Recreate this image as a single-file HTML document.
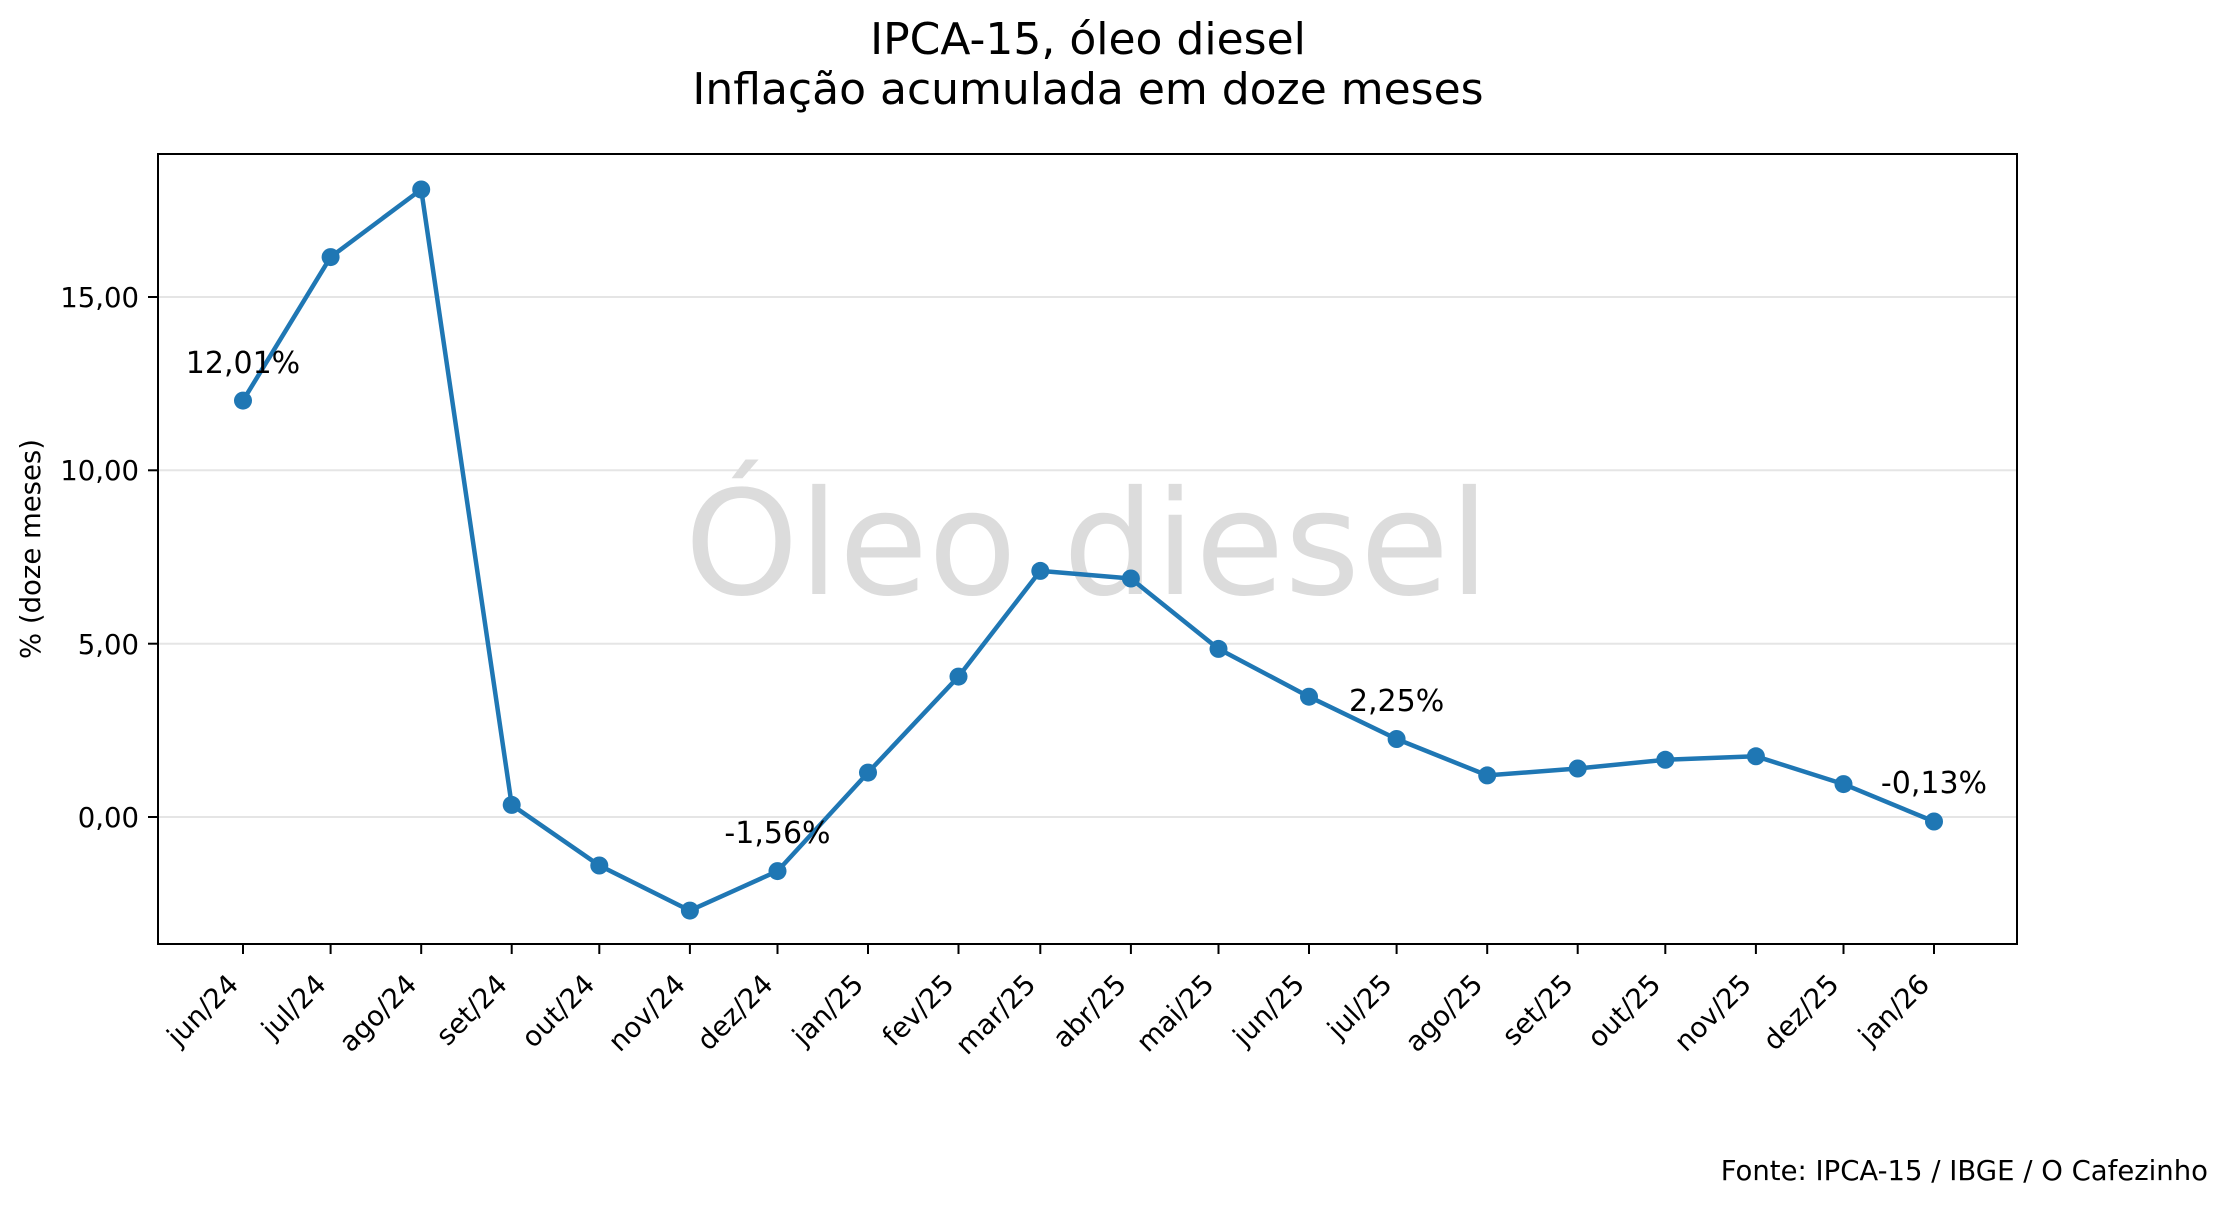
<!DOCTYPE html>
<html><head><meta charset="utf-8"><style>html,body{margin:0;padding:0;background:#fff}svg{display:block}text{font-family:"DejaVu Sans","Liberation Sans",sans-serif}</style></head><body>
<svg width="2230" height="1206" viewBox="0 0 2230 1206" xmlns="http://www.w3.org/2000/svg">
<rect width="2230" height="1206" fill="#fff"/>
<text x="1088" y="54" font-size="44" text-anchor="middle">IPCA-15, óleo diesel</text>
<text x="1088" y="104" font-size="44" text-anchor="middle">Inflação acumulada em doze meses</text>
<g stroke="#e5e5e5" stroke-width="2">
<line x1="158" x2="2017" y1="297" y2="297"/><line x1="158" x2="2017" y1="470.3" y2="470.3"/><line x1="158" x2="2017" y1="643.7" y2="643.7"/><line x1="158" x2="2017" y1="817" y2="817"/>
</g>
<text x="1087" y="594" font-size="145" fill="#dcdcdc" text-anchor="middle">Óleo diesel</text>
<polyline fill="none" stroke="#1f77b4" stroke-width="4.5" stroke-linejoin="round" points="243,400.6 330.6,257.1 421.2,189.5 511.7,804.9 599.3,865.5 689.9,910.6 777.5,871.1 868,772.6 958.5,676.6 1040.3,570.9 1130.9,578.5 1218.5,648.9 1309,696.7 1396.6,739 1487.2,775.4 1577.7,768.5 1665.3,759.8 1755.9,756.3 1843.5,784.1 1934,821.5"/>
<g fill="#1f77b4">
<circle cx="243" cy="400.6" r="9"/><circle cx="330.6" cy="257.1" r="9"/><circle cx="421.2" cy="189.5" r="9"/><circle cx="511.7" cy="804.9" r="9"/><circle cx="599.3" cy="865.5" r="9"/><circle cx="689.9" cy="910.6" r="9"/><circle cx="777.5" cy="871.1" r="9"/><circle cx="868" cy="772.6" r="9"/><circle cx="958.5" cy="676.6" r="9"/><circle cx="1040.3" cy="570.9" r="9"/><circle cx="1130.9" cy="578.5" r="9"/><circle cx="1218.5" cy="648.9" r="9"/><circle cx="1309" cy="696.7" r="9"/><circle cx="1396.6" cy="739" r="9"/><circle cx="1487.2" cy="775.4" r="9"/><circle cx="1577.7" cy="768.5" r="9"/><circle cx="1665.3" cy="759.8" r="9"/><circle cx="1755.9" cy="756.3" r="9"/><circle cx="1843.5" cy="784.1" r="9"/><circle cx="1934" cy="821.5" r="9"/>
</g>
<g font-size="30" text-anchor="middle">
<text x="243" y="373">12,01%</text><text x="777.5" y="843">-1,56%</text><text x="1396.6" y="711">2,25%</text><text x="1934" y="793">-0,13%</text>
</g>
<rect x="158" y="154" width="1859" height="790" fill="none" stroke="#000" stroke-width="2"/>
<g stroke="#000" stroke-width="2">
<line x1="148" x2="158" y1="297" y2="297"/><line x1="148" x2="158" y1="470.3" y2="470.3"/><line x1="148" x2="158" y1="643.7" y2="643.7"/><line x1="148" x2="158" y1="817" y2="817"/>
</g>
<g font-size="27.5" text-anchor="end">
<text x="139" y="307">15,00</text><text x="139" y="480">10,00</text><text x="139" y="654">5,00</text><text x="139" y="827">0,00</text>
</g>
<text transform="translate(40,549) rotate(-90)" font-size="27.5" text-anchor="middle">% (doze meses)</text>
<g stroke="#000" stroke-width="2">
<line x1="243" x2="243" y1="944" y2="954"/><line x1="330.6" x2="330.6" y1="944" y2="954"/><line x1="421.2" x2="421.2" y1="944" y2="954"/><line x1="511.7" x2="511.7" y1="944" y2="954"/><line x1="599.3" x2="599.3" y1="944" y2="954"/><line x1="689.9" x2="689.9" y1="944" y2="954"/><line x1="777.5" x2="777.5" y1="944" y2="954"/><line x1="868" x2="868" y1="944" y2="954"/><line x1="958.5" x2="958.5" y1="944" y2="954"/><line x1="1040.3" x2="1040.3" y1="944" y2="954"/><line x1="1130.9" x2="1130.9" y1="944" y2="954"/><line x1="1218.5" x2="1218.5" y1="944" y2="954"/><line x1="1309" x2="1309" y1="944" y2="954"/><line x1="1396.6" x2="1396.6" y1="944" y2="954"/><line x1="1487.2" x2="1487.2" y1="944" y2="954"/><line x1="1577.7" x2="1577.7" y1="944" y2="954"/><line x1="1665.3" x2="1665.3" y1="944" y2="954"/><line x1="1755.9" x2="1755.9" y1="944" y2="954"/><line x1="1843.5" x2="1843.5" y1="944" y2="954"/><line x1="1934" x2="1934" y1="944" y2="954"/>
</g>
<g font-size="27.5" text-anchor="end">
<text transform="translate(240,986) rotate(-45)">jun/24</text>
<text transform="translate(327.6,986) rotate(-45)">jul/24</text>
<text transform="translate(418.2,986) rotate(-45)">ago/24</text>
<text transform="translate(508.7,986) rotate(-45)">set/24</text>
<text transform="translate(596.3,986) rotate(-45)">out/24</text>
<text transform="translate(686.9,986) rotate(-45)">nov/24</text>
<text transform="translate(774.5,986) rotate(-45)">dez/24</text>
<text transform="translate(865,986) rotate(-45)">jan/25</text>
<text transform="translate(955.5,986) rotate(-45)">fev/25</text>
<text transform="translate(1037.3,986) rotate(-45)">mar/25</text>
<text transform="translate(1127.9,986) rotate(-45)">abr/25</text>
<text transform="translate(1215.5,986) rotate(-45)">mai/25</text>
<text transform="translate(1306,986) rotate(-45)">jun/25</text>
<text transform="translate(1393.6,986) rotate(-45)">jul/25</text>
<text transform="translate(1484.2,986) rotate(-45)">ago/25</text>
<text transform="translate(1574.7,986) rotate(-45)">set/25</text>
<text transform="translate(1662.3,986) rotate(-45)">out/25</text>
<text transform="translate(1752.9,986) rotate(-45)">nov/25</text>
<text transform="translate(1840.5,986) rotate(-45)">dez/25</text>
<text transform="translate(1931,986) rotate(-45)">jan/26</text>
</g>
<text x="2208" y="1180" font-size="27.5" text-anchor="end">Fonte: IPCA-15 / IBGE / O Cafezinho</text>
</svg>
</body></html>
